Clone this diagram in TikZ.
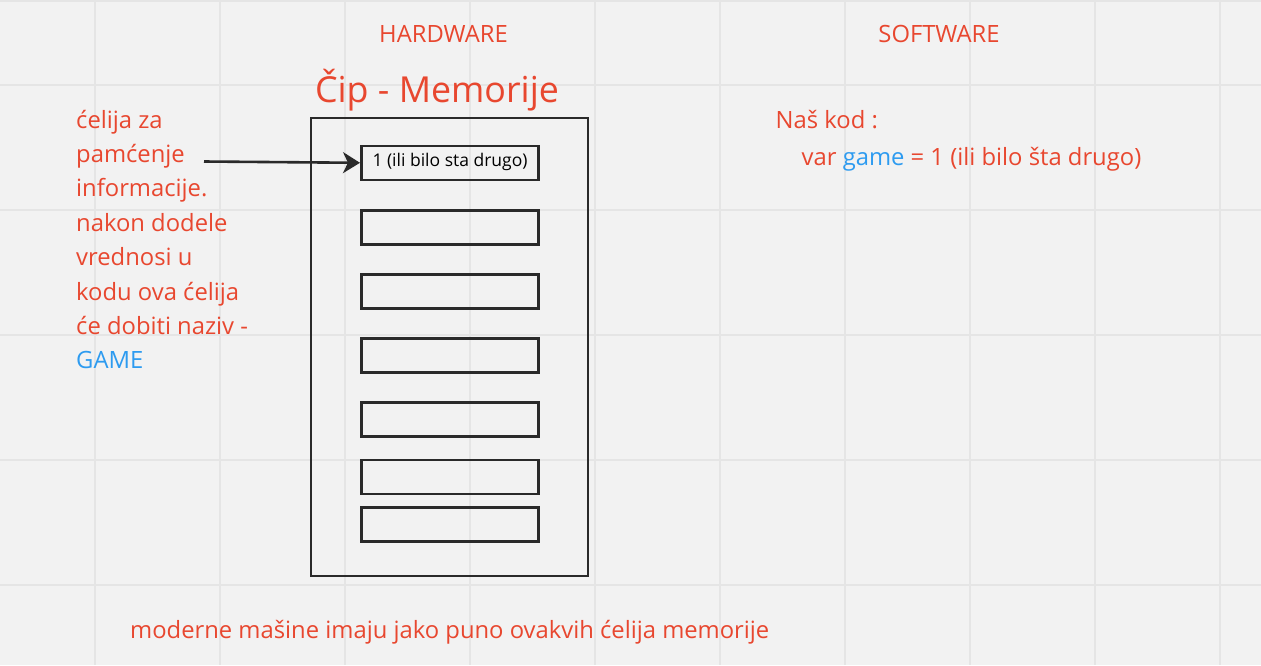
\documentclass[tikz,border=0pt]{standalone}
\usepackage{fontspec}
\setmainfont{Open Sans}
\usetikzlibrary{arrows.meta}
\definecolor{bg}{HTML}{F2F2F2}
\definecolor{gridc}{HTML}{E5E5E5}
\definecolor{mred}{HTML}{E8472F}
\definecolor{mblue}{HTML}{2D9BF0}
\definecolor{ink}{HTML}{2A2A2A}
\tikzset{
  cell/.style={draw=ink, line width=2.6pt, minimum width=177pt, minimum height=34pt, inner sep=0pt, anchor=north west},
  redtxt/.style={text=mred, inner sep=0pt, font=\fontsize{23.8}{28}\selectfont},
  arr/.style={draw=ink, line width=2.6pt, -{Stealth[length=17pt,width=21pt,inset=5pt]}}
}
\begin{document}
\begin{tikzpicture}[x=1pt,y=-1pt]
\fill[bg] (0,0) rectangle (1261,665);
\useasboundingbox (0,0) rectangle (1261,665);
% grid
\foreach \gx in {95,220,345,470,595,720,845,970,1095,1220}
  \draw[gridc, line width=1.4pt] (\gx,0) -- (\gx,665);
\foreach \gy in {1,85,210,335,460,585}
  \draw[gridc, line width=1.4pt] (0,\gy) -- (1261,\gy);
% headings
\node[redtxt, anchor=base] (hw) at (443.5,42) {HARDWARE};
\node[redtxt, anchor=base] (sw) at (939,42) {SOFTWARE};
\node[redtxt, anchor=base, font=\fontsize{35.8}{42}\selectfont] (chip) at (437,102) {Čip - Memorije};
% chip
\draw[ink, line width=2.6pt] (311,118) rectangle (588,576);
\node[cell] (c1) at (360,144.5) {};
\node[cell] (c2) at (360,209) {};
\node[cell] (c3) at (360,273) {};
\node[cell] (c4) at (360,337) {};
\node[cell] (c5) at (360,401) {};
\node[cell] (c6) at (360,458.5) {};
\node[cell] (c7) at (360,506) {};
\node[anchor=base, inner sep=0pt, font=\fontsize{17.5}{20}\selectfont, text=black] (c1t) at (450,166.5) {1 (ili bilo sta drugo)};
% left text
\foreach \t [count=\i] in {ćelija za, pamćenje, informacije., nakon dodele, vrednosi u, kodu ova ćelija, će dobiti naziv -, {\color{mblue}GAME}}
  \node[redtxt, anchor=base west] (l\i) at (76,{128+34.4*(\i-1)}) {\t};
\coordinate (astart) at (204,161.5);
\draw[arr] (astart) -- (c1.west);
% software text
\node[redtxt, anchor=base west] (code1) at (775.5,128) {Naš kod :};
\node[redtxt, anchor=base west] (code2) at (801.5,165) {var {\color{mblue}game} = 1 (ili bilo šta drugo)};
% bottom
\node[redtxt, anchor=base west] (bottom) at (130,638) {moderne mašine imaju jako puno ovakvih ćelija memorije};
\end{tikzpicture}
\end{document}
